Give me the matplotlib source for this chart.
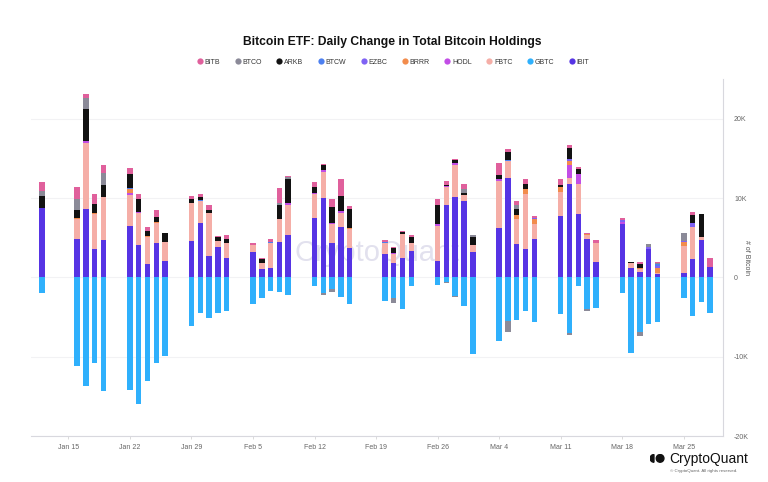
import matplotlib
matplotlib.use("Agg")
import matplotlib.pyplot as plt
import matplotlib.dates as mdates
from matplotlib.lines import Line2D
from matplotlib.patches import Circle, Wedge
import numpy as np
import pandas as pd

plt.rcParams['font.family'] = ['Liberation Sans', 'DejaVu Sans']

dates = ["2024-01-12",
         "2024-01-16", "2024-01-17", "2024-01-18", "2024-01-19",
         "2024-01-22", "2024-01-23", "2024-01-24", "2024-01-25", "2024-01-26",
         "2024-01-29", "2024-01-30", "2024-01-31", "2024-02-01", "2024-02-02",
         "2024-02-05", "2024-02-06", "2024-02-07", "2024-02-08", "2024-02-09",
         "2024-02-12", "2024-02-13", "2024-02-14", "2024-02-15", "2024-02-16",
         "2024-02-20", "2024-02-21", "2024-02-22", "2024-02-23",
         "2024-02-26", "2024-02-27", "2024-02-28", "2024-02-29", "2024-03-01",
         "2024-03-04", "2024-03-05", "2024-03-06", "2024-03-07", "2024-03-08",
         "2024-03-11", "2024-03-12", "2024-03-13", "2024-03-14", "2024-03-15",
         "2024-03-18", "2024-03-19", "2024-03-20", "2024-03-21", "2024-03-22",
         "2024-03-25", "2024-03-26", "2024-03-27", "2024-03-28"]

# daily change in holdings (BTC)
ibit = [8790,
        4875, 8665, 3535, 4750,
        6480, 4080, 1640, 4295, 2100,
        4585, 6820, 2690, 3790, 2480,
        3200, 1050, 1215, 4460, 5305,
        7490, 10015, 4330, 6390, 3660,
        2980, 1845, 2400, 3320,
        2060, 9095, 10100, 9675, 3195,
        6190, 12580, 4170, 3575, 4840,
        7740, 11820, 7995, 4875, 1930,
        6690, 1140, 700, 3535, 400,
        505, 2310, 4710, 1300]
gbtc = [-2020,
        -11200, -13730, -10785, -14320,
        -14150, -15910, -13100, -10825, -9850,
        -6110, -4420, -5050, -4420, -4220,
        -3370, -2530, -1690, -1860, -2235,
        -1100, -1940, -1515, -2450, -3370,
        -2955, -2650, -3965, -1100,
        -935, -555, -2275, -3585, -9600,
        -7960, -5520, -5390, -4220, -5610,
        -4550, -6950, -1100, -3915, -3790,
        -2020, -9520, -6870, -5810, -5610,
        -2650, -4890, -3080, -4470]
fbtc = [0,
        2450, 8335, 4420, 5350,
        3915, 4000, 3490, 2525, 2315,
        4760, 2820, 5390, 760, 1810,
        850, 800, 3080, 2865, 3875,
        3070, 3325, 2400, 1770, 2440,
        1315, 1100, 3070, 970,
        4420, 2275, 4130, 715, 845,
        5975, 2110, 3160, 6945, 1895,
        2990, 760, 3790, 420, 2360,
        0, 630, 400, 0, 200,
        3450, 4000, 420, 0]
hodl = [0,
        0, 250, 0, 0,
        295, 170, 0, 0, 0,
        0, 0, 0, 0, 0,
        100, 0, 0, 0, 250,
        150, 210, 170, 250, 0,
        0, 150, 0, 0,
        250, 150, 150, 0, 0,
        210, 0, 0, 0, 0,
        0, 1600, 1225, 0, 0,
        245, 0, 0, 0, 0,
        0, 0, 0, 0]
brrr = [0,
        200, 0, 210, 0,
        420, 0, 150, 210, 0,
        0, 0, 0, 0, 0,
        0, 0, 0, 0, 0,
        0, 0, 0, 0, 150,
        0, 0, 0, 0,
        0, 0, 0, 0, 0,
        0, 0, 545, 670, 590,
        630, 505, 0, 210, 0,
        0, 0, 150, 0, 600,
        465, 0, 0, 0]
ezbc = [0,
        0, 0, 0, 0,
        0, 0, 0, 0, 0,
        0, 0, 0, 0, 0,
        0, 0, 0, 0, 0,
        0, 0, 0, 0, 0,
        0, 0, 0, 0,
        0, 0, 0, 0, 0,
        0, 0, 0, 0, 210,
        0, 250, 0, 0, 0,
        300, 0, 0, 330, 300,
        200, 505, 0, 0]
btcw = [0,
        0, 0, 0, 0,
        210, 0, 0, 0, 0,
        0, 150, 0, 0, 0,
        0, 0, 150, 0, 0,
        0, 0, 0, 0, 0,
        150, 0, 0, 0,
        0, 0, 0, 0, 0,
        0, 150, 0, 0, 0,
        0, 0, 0, 0, 0,
        0, 0, 0, 0, 150,
        0, 0, 0, 0]
arkb = [1480,
        970, 4000, 1050, 1515,
        1685, 1685, 630, 630, 1140,
        505, 420, 420, 505, 590,
        0, 420, 0, 1770, 2945,
        650, 630, 1945, 1820, 2420,
        0, 670, 295, 760,
        2440, 145, 420, 295, 1010,
        545, 925, 715, 630, 0,
        250, 1430, 630, 0, 0,
        0, 170, 400, 0, 0,
        0, 1050, 2865, 0]
btco = [670,
        1350, 1430, 0, 1600,
        0, 0, 0, 0, 0,
        0, 0, 0, 0, 0,
        0, 0, 0, 250, 250,
        0, -300, -380, 0, 0,
        0, -630, 0, 0,
        0, -150, -150, 465, 295,
        0, -1350, 545, 0, 0,
        0, -250, 0, -300, 0,
        0, 0, -500, 300, 150,
        1010, 0, 0, 0]
bitb = [1140,
        1515, 465, 1350, 970,
        840, 545, 465, 840, 0,
        380, 295, 675, 210, 420,
        150, 130, 400, 1975, 210,
        630, 130, 1050, 2190, 340,
        220, 100, 130, 295,
        715, 505, 130, 675, 0,
        1475, 420, 545, 590, 170,
        760, 340, 340, 130, 420,
        295, 0, 250, 100, 130,
        0, 420, 0, 1100]

names = ["IBIT", "GBTC", "FBTC", "HODL", "BRRR", "EZBC", "BTCW", "ARKB", "BTCO", "BITB"]
values = [ibit, gbtc, fbtc, hodl, brrr, ezbc, btcw, arkb, btco, bitb]
colors = ["#5634e4", "#2fb0fc", "#f5aea7", "#c24de6", "#f28c4c",
          "#7f62f4", "#4d80f0", "#121212", "#8b8a98", "#e0609c"]
legend_order = ["BITB", "BTCO", "ARKB", "BTCW", "EZBC", "BRRR", "HODL", "FBTC", "GBTC", "IBIT"]

x = mdates.date2num(pd.to_datetime(dates))

fig = plt.figure(figsize=(7.68, 4.82), dpi=100)
ax = fig.add_axes([0.0404, 0.0954, 0.9010, 0.7401])

# watermark
ax.text(0.50, 0.513, "CryptoQuant", transform=ax.transAxes, fontsize=21,
        color="#e2e1ee", ha="center", va="center", zorder=0)

pos = np.zeros(len(x))
neg = np.zeros(len(x))
for name, vals, c in zip(names, values, colors):
    v = np.array(vals, dtype=float)
    bottom = np.where(v >= 0, pos, neg)
    ax.bar(x, v, bottom=bottom, width=0.62, color=c, linewidth=0, zorder=2)
    pos = pos + np.where(v >= 0, v, 0)
    neg = neg + np.where(v < 0, v, 0)

ax.set_ylim(-20000, 25000)
ax.set_xlim(mdates.date2num(pd.Timestamp("2024-01-10 18:00")),
            mdates.date2num(pd.Timestamp("2024-03-29 11:00")))

ax.yaxis.tick_right()
ax.yaxis.set_label_position("right")
ax.set_yticks([-20000, -10000, 0, 10000, 20000])
ax.set_yticklabels(["-20K", "-10K", "0", "10K", "20K"])
ax.set_ylabel("# of Bitcoin", rotation=270, fontsize=5, color="#555555", labelpad=1)
ax.grid(axis="y", color="#f2f2f4", linewidth=0.8, zorder=0)

ticks = pd.date_range("2024-01-15", "2024-03-25", freq="7D")
ax.set_xticks(mdates.date2num(ticks))
ax.set_xticklabels([t.strftime("%b %-d") for t in ticks])
ax.tick_params(axis="x", labelsize=5, colors="#666666", length=2, width=0.5, color="#cccccc", pad=4)
ax.tick_params(axis="y", labelsize=5, colors="#666666", length=0, pad=8)

for s in ["top", "left"]:
    ax.spines[s].set_visible(False)
ax.spines["bottom"].set_color("#d8d8de")
ax.spines["bottom"].set_linewidth(0.8)
ax.spines["right"].set_color("#d8d8de")
ax.spines["right"].set_linewidth(0.8)

fig.text(0.511, 0.913, "Bitcoin ETF: Daily Change in Total Bitcoin Holdings",
         ha="center", va="center", fontsize=8.7, fontweight="bold", color="#111111")

handles = [Line2D([], [], marker="o", linestyle="", markersize=4.5,
                  markerfacecolor=colors[names.index(n)], markeredgewidth=0) for n in legend_order]
fig.legend(handles, legend_order, loc="center", bbox_to_anchor=(0.511, 0.871), ncol=10,
           frameon=False, fontsize=5, handletextpad=0.1, columnspacing=1.9,
           handlelength=1.2, labelcolor="#333333")

# logo
fig.text(0.871, 0.048, "CryptoQuant", fontsize=10, color="#111111", ha="left", va="center")
fig.text(0.872, 0.022, "\u00a9 CryptoQuant. All rights reserved.", fontsize=3.2,
         color="#666666", ha="left", va="center")
iax = fig.add_axes([0.846, 0.036, 0.022, 0.026])
iax.set_xlim(0, 2.2)
iax.set_ylim(-0.55, 0.55)
iax.set_aspect("equal")
iax.axis("off")
iax.add_patch(Wedge((0.55, 0), 0.5, 90, 270, color="#111111"))
iax.add_patch(Circle((1.35, 0), 0.5, color="#111111"))

fig.savefig("out.png", dpi=100)
